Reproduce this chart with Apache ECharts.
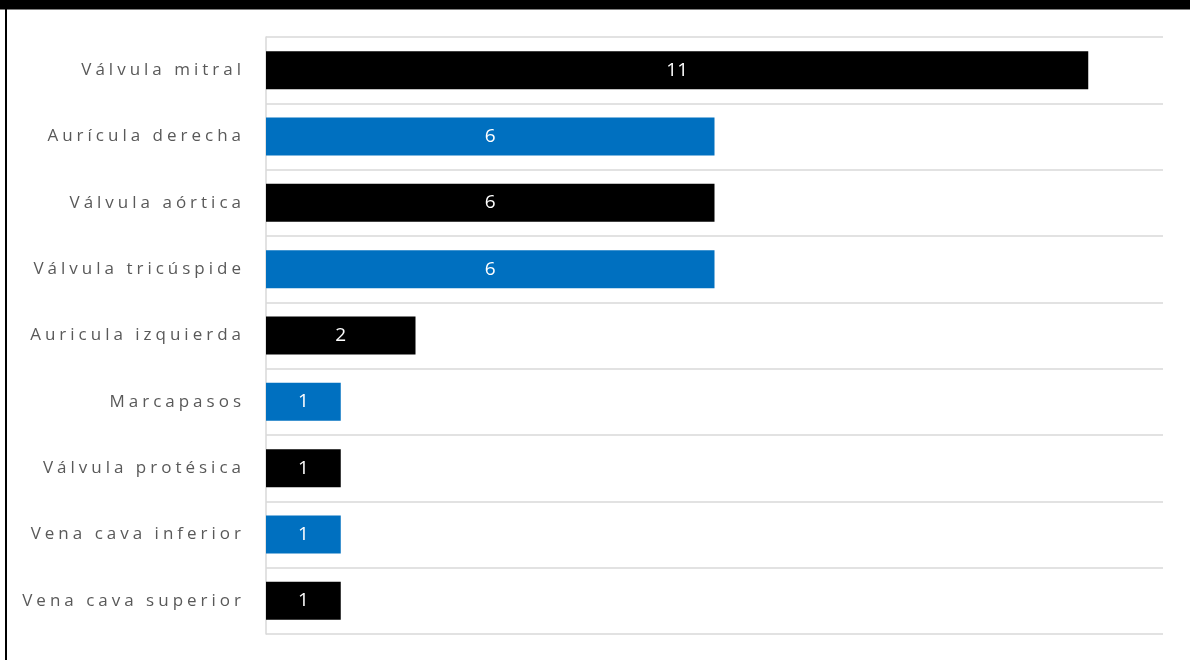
<!DOCTYPE html>
<html>
<head>
<meta charset="utf-8">
<style>
  html, body { margin: 0; padding: 0; background: #ffffff; }
  #chart { width: 1190px; height: 660px; }
</style>
<script src="https://cdn.jsdelivr.net/npm/echarts@6/dist/echarts.min.js"></script>
</head>
<body>
<div id="chart"></div>
<script>
// Categories, top to bottom
const categories = [
  'Válvula mitral',
  'Aurícula derecha',
  'Válvula aórtica',
  'Válvula tricúspide',
  'Auricula izquierda',
  'Marcapasos',
  'Válvula protésica',
  'Vena cava inferior',
  'Vena cava superior'
];
// Case counts per location
const counts = [11, 6, 6, 6, 2, 1, 1, 1, 1];
// Alternating bar fills
const barColors = ['#000000', '#0070C0'];

const AXIS_LABEL_COLOR = '#595959';

// Widely tracked category labels: apply letter spacing only to the grey axis text.
(function () {
  const proto = CanvasRenderingContext2D.prototype;
  const origFill = proto.fillText;
  proto.fillText = function (text, x, y, maxWidth) {
    const fs = String(this.fillStyle).toLowerCase();
    const spaced = fs === AXIS_LABEL_COLOR || fs === 'rgb(89, 89, 89)';
    if ('letterSpacing' in this) this.letterSpacing = spaced ? '4px' : '0px';
    return maxWidth === undefined
      ? origFill.call(this, text, x, y)
      : origFill.call(this, text, x, y, maxWidth);
  };
})();

const chart = echarts.init(document.getElementById('chart'), null, { renderer: 'canvas' });

chart.setOption({
  animation: false,
  backgroundColor: '#ffffff',
  graphic: [
    { type: 'rect', left: 0, top: 0, shape: { width: 1190, height: 9 }, style: { fill: '#000000' }, z: 10 },
    { type: 'rect', left: 0, top: 9, shape: { width: 1190, height: 1 }, style: { fill: '#7f7f7f' }, z: 10 },
    { type: 'rect', left: 5, top: 9, shape: { width: 2, height: 651 }, style: { fill: '#000000' }, z: 10 }
  ],
  grid: { left: 266, right: 27, top: 37, bottom: 26, containLabel: false },
  xAxis: {
    type: 'value',
    min: 0,
    max: 12,
    show: false,
    splitLine: { show: false }
  },
  yAxis: {
    type: 'category',
    data: categories,
    inverse: true,
    axisLine: { show: true, lineStyle: { color: '#d9d9d9', width: 1.5 } },
    axisTick: { show: false },
    splitLine: { show: true, lineStyle: { color: '#d9d9d9', width: 1.5 } },
    axisLabel: {
      color: AXIS_LABEL_COLOR,
      fontFamily: 'Open Sans',
      fontSize: 17,
      margin: 21,
      padding: [2, 0, 0, 0]
    }
  },
  series: [{
    type: 'bar',
    data: counts.map((v, i) => ({ value: v, itemStyle: { color: barColors[i % 2] } })),
    barWidth: 38,
    label: {
      show: true,
      position: 'inside',
      color: '#ffffff',
      fontFamily: 'Open Sans',
      fontSize: 19,
      padding: [3, 0, 0, 0]
    }
  }]
});
</script>
</body>
</html>
